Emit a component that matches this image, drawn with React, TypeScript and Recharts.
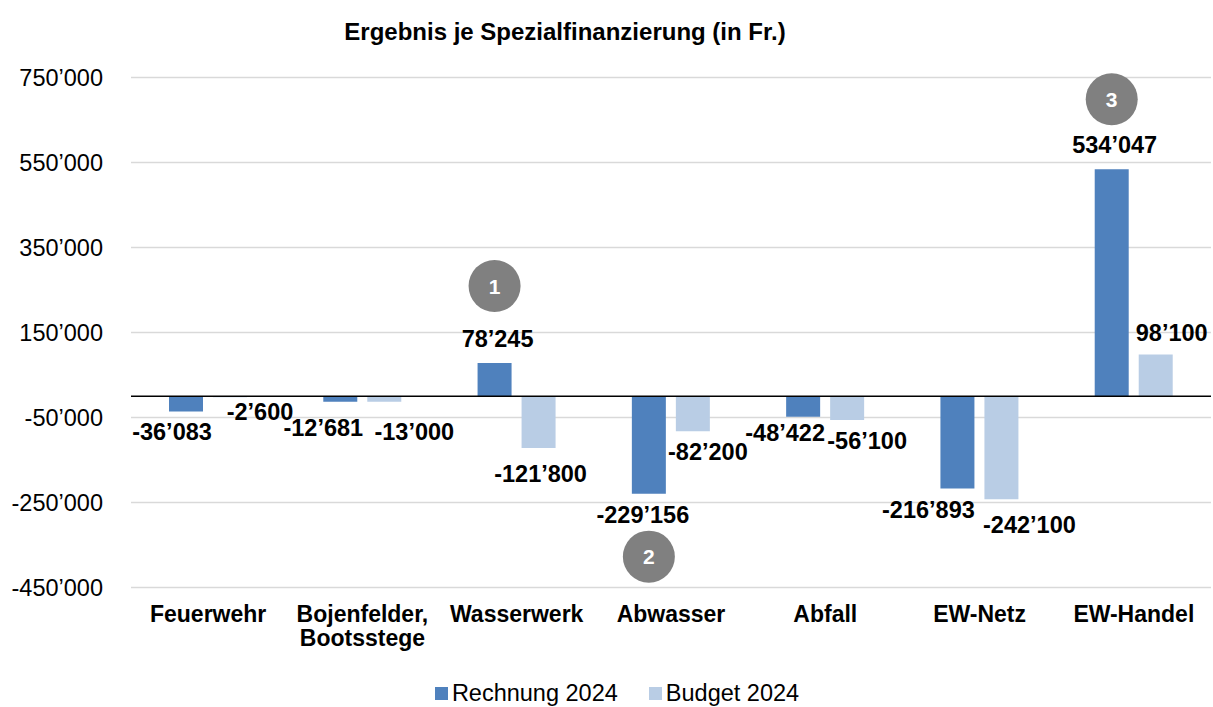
// Ergebnis je Spezialfinanzierung: grouped bars Rechnung vs Budget 2024.
// Labels in the source were hand-dragged, so each one gets a small nudge.
import React from 'react';
import { BarChart, Bar, XAxis, YAxis, CartesianGrid, ReferenceLine, Legend, LabelList } from 'recharts';

const categories = ['Feuerwehr', 'Bojenfelder,\nBootsstege', 'Wasserwerk', 'Abwasser', 'Abfall', 'EW-Netz', 'EW-Handel'];
const rechnung2024 = [-36083, -12681, 78245, -229156, -48422, -216893, 534047];
const budget2024 = [-2600, -13000, -121800, -82200, -56100, -242100, 98100];
const yTicks = [-450000, -250000, -50000, 150000, 350000, 550000, 750000];
const badges: Record<string, string> = { Wasserwerk: '1', Abwasser: '2', 'EW-Handel': '3' };

// [dx, distance from bar end to label centre]
const rechnungNudge = [[-14, 20], [-17, 26], [3, -24], [-6, 21], [-18, 16], [-29, 21], [3, -25]];
const budgetNudge = [[30, 14], [30, 30], [2, 26], [15, 21], [20, 21], [28, 26], [16, -22]];
const badgeDy: Record<string, number> = { Wasserwerk: -53, Abwasser: 42, 'EW-Handel': -45 };

const FONT = '"Liberation Sans", Arial, sans-serif';
const BLUE = '#4f81bd';
const LIGHT = '#b9cde5';

const data = categories.map((name, i) => ({ name, rechnung: rechnung2024[i], budget: budget2024[i] }));

function fmt(v: number) {
  const s = Math.abs(v).toString().replace(/\B(?=(\d{3})+(?!\d))/g, '\u2019');
  return (v < 0 ? '-' : '') + s;
}

const makeLabel = (nudge: number[][], withBadges: boolean) => (props: any) => {
  const box = props.viewBox && props.viewBox.width != null ? props.viewBox : props;
  const { x, y, width, height } = box;
  const value = Number(props.value);
  const index = props.index;
  const end = value >= 0 ? Math.min(y, y + height) : Math.max(y, y + height);
  const barMid = x + width / 2;
  const cx = barMid + nudge[index][0];
  const cy = end + nudge[index][1];
  const cat = categories[index];
  const badge = withBadges ? badges[cat] : undefined;
  return (
    <g>
      <text x={cx} y={cy} dy="0.35em" textAnchor="middle" fontSize={23.5} fontWeight="bold" fontFamily={FONT} fill="#000">
        {fmt(value)}
      </text>
      {badge && (
        <g>
          <circle cx={barMid} cy={cy + badgeDy[cat]} r={26} fill="#808080" />
          <text x={barMid} y={cy + badgeDy[cat]} dy="0.36em" textAnchor="middle" fontSize={21} fontWeight="bold" fontFamily={FONT} fill="#fff">
            {badge}
          </text>
        </g>
      )}
    </g>
  );
};

const CategoryTick = (props: any) => {
  const { x, y, payload } = props;
  const lines = String(payload.value).split('\n');
  return (
    <g>
      {lines.map((l, i) => (
        <text key={i} x={x} y={y + 34 + i * 24} textAnchor="middle" fontSize={23} fontWeight="bold" fontFamily={FONT} fill="#000">
          {l}
        </text>
      ))}
    </g>
  );
};

const LegendBox = () => (
  <div style={{ display: 'flex', justifyContent: 'center', gap: 31, height: 28, lineHeight: '28px', fontFamily: FONT, fontSize: 23.5, color: '#000', paddingLeft: 23 }}>
    {[{ label: 'Rechnung 2024', color: BLUE }, { label: 'Budget 2024', color: LIGHT }].map(it => (
      <div key={it.label} style={{ display: 'flex', alignItems: 'center', gap: 4 }}>
        <span style={{ width: 13, height: 13, background: it.color, display: 'inline-block' }} />
        {it.label}
      </div>
    ))}
  </div>
);

export default function App() {
  return (
    <div style={{ position: 'absolute', left: 0, top: 0, width: 1213, height: 707, background: '#fff' }}>
      <div style={{ position: 'absolute', left: 0, top: 18, width: 1130, textAlign: 'center', fontFamily: FONT, fontSize: 24, fontWeight: 'bold', lineHeight: '28px', color: '#000' }}>
        Ergebnis je Spezialfinanzierung (in Fr.)
      </div>
      <BarChart width={1213} height={707} data={data} margin={{ top: 77.5, right: 2, bottom: 0, left: 0 }} barSize={34} barGap={10}>
        <CartesianGrid vertical={false} stroke="#d9d9d9" strokeWidth={1.5} />
        <XAxis dataKey="name" axisLine={false} tickLine={false} tickSize={0} tickMargin={0} height={91.5} interval={0} tick={<CategoryTick />} />
        <YAxis
          domain={[-450000, 750000]}
          ticks={yTicks}
          interval={0}
          width={131}
          axisLine={false}
          tickLine={false}
          tickSize={0}
          tickMargin={28}
          tickFormatter={fmt}
          tick={{ fontSize: 23.5, fontFamily: FONT, fill: '#000' }}
        />
        <Legend verticalAlign="bottom" content={<LegendBox />} />
        <Bar dataKey="rechnung" name="Rechnung 2024" fill={BLUE} isAnimationActive={false}>
          <LabelList dataKey="rechnung" content={makeLabel(rechnungNudge, true)} />
        </Bar>
        <Bar dataKey="budget" name="Budget 2024" fill={LIGHT} isAnimationActive={false}>
          <LabelList dataKey="budget" content={makeLabel(budgetNudge, false)} />
        </Bar>
        <ReferenceLine y={0} stroke="#000" strokeWidth={1.5} />
      </BarChart>
    </div>
  );
}
